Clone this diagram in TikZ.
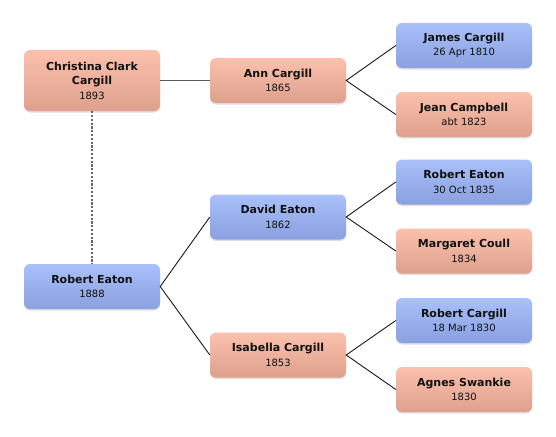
\documentclass[tikz,border=0pt]{standalone}
\usepackage{fontspec}
\setmainfont{DejaVu Sans}
\usetikzlibrary{shadows}
\definecolor{pinktop}{RGB}{251,193,173}
\definecolor{pinkbot}{RGB}{222,160,140}
\definecolor{bluetop}{RGB}{170,192,250}
\definecolor{bluebot}{RGB}{138,160,224}
\definecolor{txt}{RGB}{17,17,17}
\newcommand\yr[1]{{\fontsize{10}{14.5}\selectfont\mdseries #1}}
\tikzset{
  person/.style={rounded corners=6pt, minimum width=136pt, minimum height=45pt,
    align=center, inner sep=2pt, text=txt,
    font=\fontsize{11}{14.5}\selectfont\bfseries,
    drop shadow={opacity=0.25, shadow xshift=0pt, shadow yshift=-1.5pt}},
  female/.style={person, top color=pinktop, bottom color=pinkbot},
  male/.style={person, top color=bluetop, bottom color=bluebot},
  link/.style={draw=black!90, line width=0.9pt},
  spouse/.style={draw=black!65, line width=1.4pt},
  sib/.style={draw=black!60, line width=1.5pt, dash pattern=on 2.2pt off 1.6pt}
}
\begin{document}
\begin{tikzpicture}
\useasboundingbox (0,0) rectangle (556pt,-436pt);
\node[female, minimum height=61pt] (chris) at (92pt,-80.5pt) {Christina Clark\\Cargill\\\yr{1893}};
\node[female] (ann) at (278pt,-80.5pt) {Ann Cargill\\\yr{1865}};
\node[male] (james) at (464pt,-45.5pt) {James Cargill\\\yr{26 Apr 1810}};
\node[female] (jean) at (464pt,-114.5pt) {Jean Campbell\\\yr{abt 1823}};
\node[male] (rob88) at (92pt,-286.5pt) {Robert Eaton\\\yr{1888}};
\node[male] (david) at (278pt,-217pt) {David Eaton\\\yr{1862}};
\node[male] (rob35) at (464pt,-182pt) {Robert Eaton\\\yr{30 Oct 1835}};
\node[female] (marg) at (464pt,-251pt) {Margaret Coull\\\yr{1834}};
\node[female] (isab) at (278pt,-355pt) {Isabella Cargill\\\yr{1853}};
\node[male] (robc) at (464pt,-320.5pt) {Robert Cargill\\\yr{18 Mar 1830}};
\node[female] (agnes) at (464pt,-389.5pt) {Agnes Swankie\\\yr{1830}};
\draw[spouse] (chris.east) -- (ann.west);
\draw[sib] (chris.south) -- (rob88.north);
\draw[link] (james.west) -- (ann.east) -- (jean.west);
\draw[link] (david.west) -- (rob88.east) -- (isab.west);
\draw[link] (rob35.west) -- (david.east) -- (marg.west);
\draw[link] (robc.west) -- (isab.east) -- (agnes.west);
\end{tikzpicture}
\end{document}
